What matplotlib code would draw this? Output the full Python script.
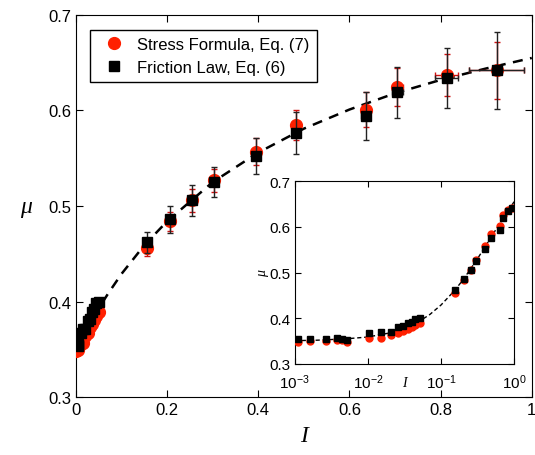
import matplotlib
matplotlib.use("Agg")
import matplotlib.pyplot as plt

# --- data ---
I_vals = [0.0011, 0.0016, 0.0027, 0.0038, 0.0044, 0.0052, 0.0103, 0.0153, 0.0206,
          0.0254, 0.0303, 0.0355, 0.0403, 0.0447, 0.051, 0.155, 0.206, 0.255,
          0.303, 0.395, 0.482, 0.636, 0.705, 0.813, 0.923]
mu_friction = [0.355, 0.355, 0.355, 0.356, 0.355, 0.353, 0.367, 0.371, 0.371,
               0.380, 0.382, 0.389, 0.392, 0.398, 0.400, 0.462, 0.486, 0.506,
               0.525, 0.552, 0.576, 0.594, 0.619, 0.634, 0.642]
mu_stress = [0.348, 0.351, 0.351, 0.353, 0.353, 0.349, 0.356, 0.357, 0.364,
             0.367, 0.373, 0.376, 0.381, 0.385, 0.389, 0.456, 0.484, 0.506,
             0.527, 0.557, 0.585, 0.601, 0.625, 0.637, 0.642]
mu_err_friction = [0.003, 0.003, 0.003, 0.003, 0.003, 0.003, 0.003, 0.003, 0.003,
                   0.003, 0.003, 0.004, 0.004, 0.004, 0.004, 0.011, 0.014, 0.016,
                   0.016, 0.019, 0.022, 0.025, 0.027, 0.031, 0.040]
mu_err_stress = [0.003, 0.003, 0.003, 0.003, 0.003, 0.003, 0.003, 0.003, 0.003,
                 0.003, 0.003, 0.003, 0.003, 0.003, 0.003, 0.008, 0.010, 0.012,
                 0.012, 0.014, 0.016, 0.018, 0.020, 0.022, 0.030]
I_err = [0, 0, 0, 0, 0, 0, 0, 0, 0, 0, 0, 0, 0, 0, 0.001, 0.002, 0.002, 0.003,
         0.003, 0.004, 0.008, 0.010, 0.012, 0.026, 0.060]

# dashed fit curve
curve_I = [0.001, 0.002, 0.005, 0.01, 0.02, 0.03, 0.05, 0.07, 0.1, 0.15, 0.2,
           0.3, 0.4, 0.5, 0.6, 0.7, 0.8, 0.9, 1.0]
curve_mu = [0.351, 0.352, 0.355, 0.359, 0.368, 0.377, 0.393, 0.408, 0.429, 0.459,
            0.484, 0.525, 0.556, 0.581, 0.601, 0.618, 0.632, 0.644, 0.655]

main_xticks = [0, 0.2, 0.4, 0.6, 0.8, 1.0]
main_xticklabels = ["0", "0.2", "0.4", "0.6", "0.8", "1"]
main_yticks = [0.3, 0.4, 0.5, 0.6, 0.7]

plt.rcParams['font.family'] = ['Liberation Sans', 'DejaVu Sans']
plt.rcParams['mathtext.default'] = 'regular'

fig = plt.figure(figsize=(5.35, 4.56), dpi=100)
ax = fig.add_axes([0.142, 0.127, 0.852, 0.838])

ax.plot(curve_I, curve_mu, '--', color='black', lw=1.8, dashes=(4, 3), zorder=2)
ax.errorbar(I_vals, mu_stress, yerr=mu_err_stress, xerr=I_err, fmt='o',
            color='#ff2000', ecolor='#d01010', ms=8.5, elinewidth=1, capsize=2,
            zorder=3, label='Stress Formula, Eq. (7)')
ax.errorbar(I_vals, mu_friction, yerr=mu_err_friction, xerr=I_err, fmt='s',
            color='black', ecolor='#222222', ms=7, elinewidth=1, capsize=2,
            zorder=4, label='Friction Law, Eq. (6)')

ax.set_xlim(0, 1)
ax.set_ylim(0.3, 0.7)
ax.set_xticks(main_xticks)
ax.set_xticklabels(main_xticklabels)
ax.set_yticks(main_yticks)
ax.tick_params(direction='in', top=True, right=True, labelsize=12, length=5)
ax.set_xlabel('I', fontsize=17, fontstyle='italic', family='Liberation Serif',
              labelpad=6)
ax.set_ylabel('μ', fontsize=17, fontstyle='italic', family='Liberation Serif',
              labelpad=16, rotation=0, va='center')

h, l = ax.get_legend_handles_labels()
h = [hh[0] for hh in h]
leg = ax.legend(h, l, loc='upper left', fontsize=12, frameon=True,
                fancybox=False, edgecolor='black', framealpha=1,
                bbox_to_anchor=(0.012, 0.983), handletextpad=0.4,
                borderpad=0.45, labelspacing=0.45)
leg.get_frame().set_linewidth(1)

# inset
axi = fig.add_axes([0.551, 0.1996, 0.410, 0.401])
axi.plot(curve_I, curve_mu, '--', color='black', lw=1, dashes=(3, 2), zorder=2)
axi.plot(I_vals, mu_stress, 'o', color='#ff2000', ms=5, zorder=3)
axi.plot(I_vals, mu_friction, 's', color='black', ms=4.5, zorder=4)
axi.set_xscale('log')
axi.set_xlim(1e-3, 1)
axi.set_ylim(0.3, 0.7)
axi.set_yticks(main_yticks)
axi.minorticks_off()
axi.tick_params(direction='in', top=True, right=True, labelsize=11, length=4, pad=3)
axi.tick_params(axis='x', pad=6)
axi.set_xlabel('I', fontsize=10, fontstyle='italic', family='Liberation Serif')
axi.xaxis.set_label_coords(0.5, -0.065)
axi.set_ylabel('μ', fontsize=10, fontstyle='italic', family='Liberation Serif',
               labelpad=0)

fig.savefig('out.png', dpi=100)
